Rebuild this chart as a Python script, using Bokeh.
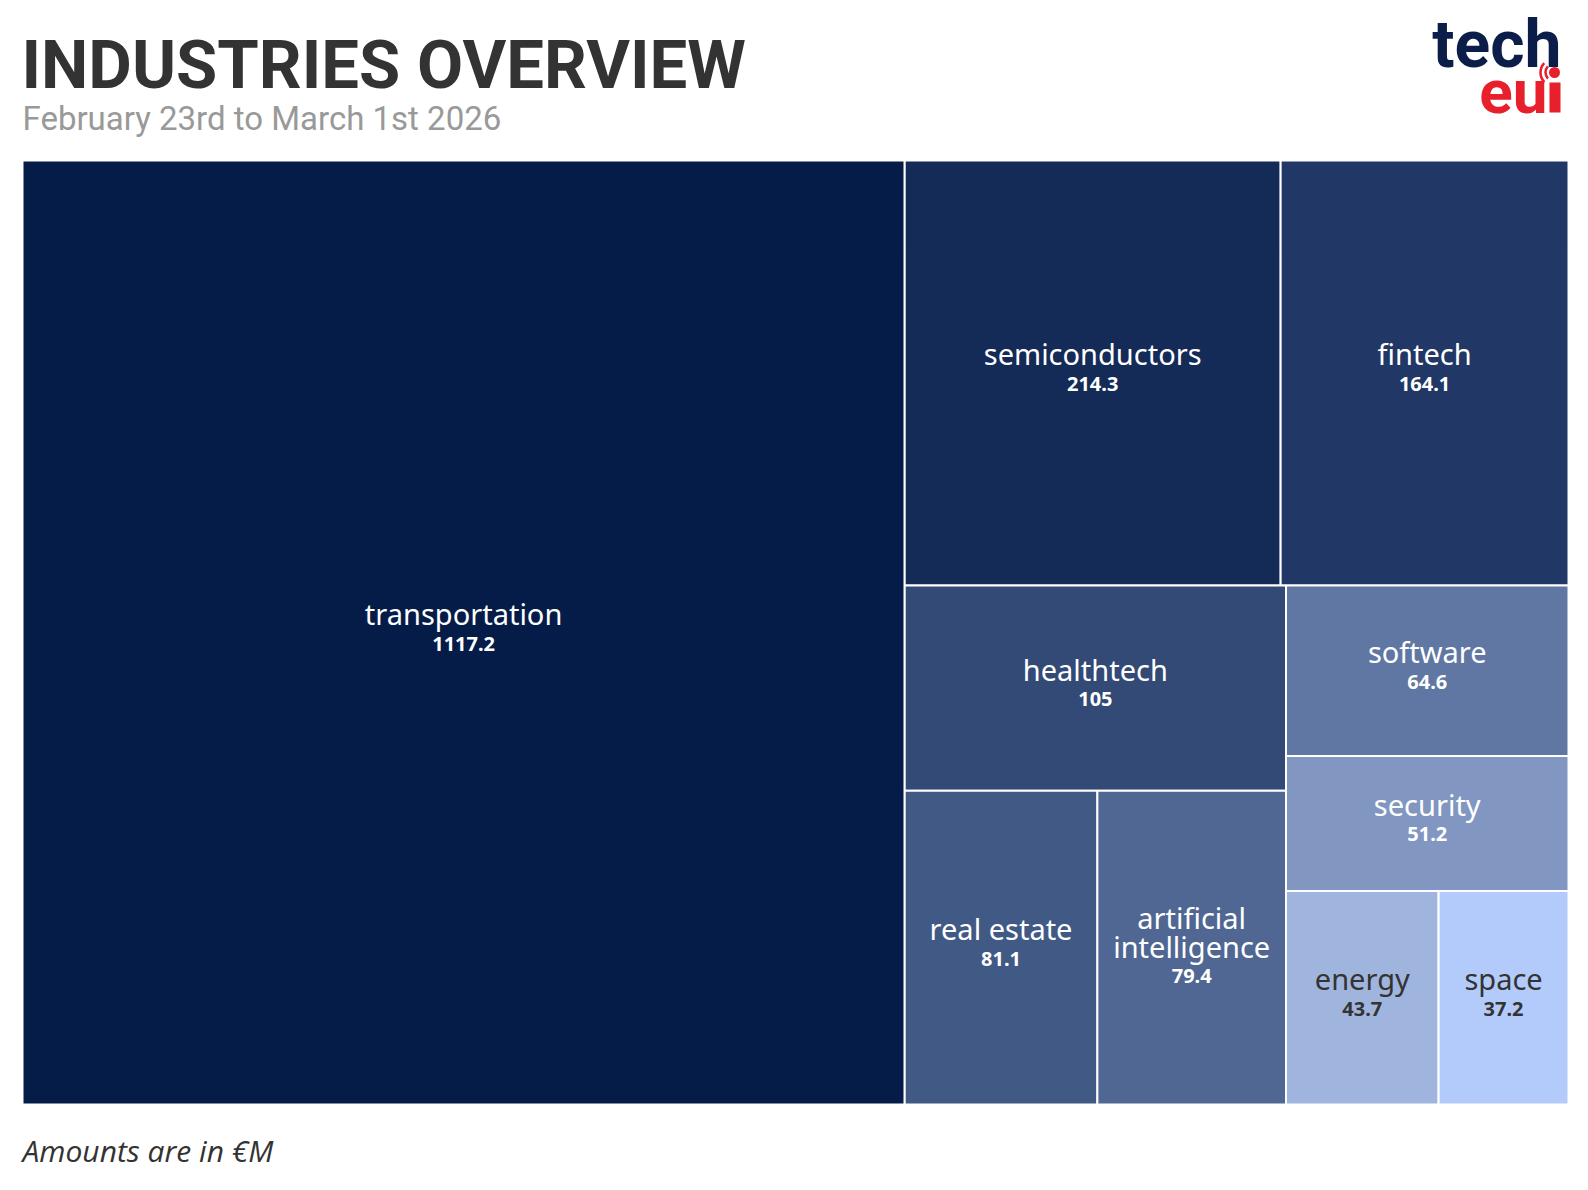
from bokeh.plotting import figure
from bokeh.models import Range1d, ColumnDataSource
from bokeh.core.properties import value
from bokeh.embed import file_html
from bokeh.resources import INLINE

# ---------------- data ----------------
industries = ["transportation", "semiconductors", "fintech", "healthtech", "real estate",
              "artificial intelligence", "software", "security", "energy", "space"]
amounts = [1117.2, 214.3, 164.1, 105, 81.1, 79.4, 64.6, 51.2, 43.7, 37.2]
palette = ["#051c48", "#142a57", "#213866", "#324a75", "#415985",
           "#4f6792", "#5f77a2", "#8197c1", "#a0b5dd", "#b3cbfa"]

title_text = "INDUSTRIES OVERVIEW"
subtitle_text = "February 23rd to March 1st 2026"
note_text = "Amounts are in \u20acM"

# ---------------- layout constants ----------------
W, H = 1572, 1174
X0, X1, Y0, Y1 = 22, 1568, 160, 1104   # treemap box (page pixels)


def binary_treemap(vals, x0, y0, x1, y1):
    """d3.treemapBinary equivalent."""
    n = len(vals)
    sums = [0.0]
    for v in vals:
        sums.append(sums[-1] + v)
    rects = [None] * n

    def part(i, j, val, x0, y0, x1, y1):
        if i >= j - 1:
            rects[i] = (x0, y0, x1, y1)
            return
        off = sums[i]
        target = val / 2 + off
        k, hi = i + 1, j - 1
        while k < hi:
            mid = (k + hi) >> 1
            if sums[mid] < target:
                k = mid + 1
            else:
                hi = mid
        if (target - sums[k - 1]) < (sums[k] - target) and i + 1 < k:
            k -= 1
        vl = sums[k] - off
        vr = val - vl
        if (x1 - x0) > (y1 - y0):
            xk = (x0 * vr + x1 * vl) / val
            part(i, k, vl, x0, y0, xk, y1)
            part(k, j, vr, xk, y0, x1, y1)
        else:
            yk = (y0 * vr + y1 * vl) / val
            part(i, k, vl, x0, y0, x1, yk)
            part(k, j, vr, x0, yk, x1, y1)

    part(0, n, sums[-1], x0, y0, x1, y1)
    return rects


rects = binary_treemap(amounts, X0, Y0, X1, Y1)


def lum(hexc):
    r, g, b = (int(hexc[i:i + 2], 16) / 255 for i in (1, 3, 5))
    return 0.2126 * r + 0.7152 * g + 0.0722 * b


p = figure(width=W, height=H, x_range=Range1d(0, W), y_range=Range1d(H, 0),
           output_backend="svg", toolbar_location=None, min_border=0)
p.axis.visible = False
p.grid.visible = False
p.outline_line_color = None
p.background_fill_color = "white"
p.border_fill_color = "white"

quad_src = ColumnDataSource(dict(
    left=[r[0] for r in rects], right=[r[2] for r in rects],
    top=[r[1] for r in rects], bottom=[r[3] for r in rects],
    color=palette[:len(rects)]))
p.quad(left="left", right="right", top="top", bottom="bottom", source=quad_src,
       fill_color="color", line_color="white", line_width=2)

name_x, name_y, name_t, name_c = [], [], [], []
val_x, val_y, val_t, val_c = [], [], [], []
name_size = 29
for nm, v, r, col in zip(industries, amounts, rects, palette):
    cx = (r[0] + r[2]) / 2
    cy = (r[1] + r[3]) / 2
    w = r[2] - r[0]
    lines = [nm]
    if len(nm) * 0.5 * name_size > w - 20 and " " in nm:
        lines = nm.split(" ")
    tc = "#333333" if lum(col) > 0.65 else "white"
    n = len(lines)
    shift = (n - 1) * 29 / 2
    for i, ln in enumerate(lines):
        name_x.append(cx)
        name_y.append(cy - 19 - shift + i * 29 + (n - 1) * 3)
        name_t.append(ln)
        name_c.append(tc)
    val_x.append(cx)
    val_y.append(name_y[-1] + 30)
    val_t.append(f"{v:g}")
    val_c.append(tc)

p.text(x=name_x, y=name_y, text=name_t, text_color=name_c, text_align="center",
       text_baseline="middle", text_font=value("Noto Sans"),
       text_font_size=f"{name_size}px")
p.text(x=val_x, y=val_y, text=val_t, text_color=val_c, text_align="center",
       text_baseline="middle", text_font=value("Noto Sans"), text_font_style="bold",
       text_font_size="20px")

# titles
p.text(x=[21], y=[64], text=[title_text], text_color="#333333", text_align="left",
       text_baseline="middle", text_font=value("Roboto"), text_font_style="bold",
       text_font_size="67px")
p.text(x=[22], y=[118], text=[subtitle_text], text_color="#999999", text_align="left",
       text_baseline="middle", text_font=value("Roboto"), text_font_size="33px")
p.text(x=[22], y=[1150], text=[note_text], text_color="#333333", text_align="left",
       text_baseline="middle", text_font=value("Open Sans"), text_font_style="italic",
       text_font_size="30px")

# logo
p.text(x=[1561], y=[44], text=["tech"], text_color="#0b1e4a", text_align="right",
       text_baseline="middle", text_font=value("Roboto"), text_font_style="bold",
       text_font_size="66px")
p.text(x=[1547], y=[91], text=["eu"], text_color="#e8202b", text_align="right",
       text_baseline="middle", text_font=value("Roboto"), text_font_style="bold",
       text_font_size="62px")
p.quad(left=[1549], right=[1560], top=[82], bottom=[112], fill_color="#e8202b", line_color=None)
p.scatter(x=[1554], y=[72], size=11, fill_color="#e8202b", line_color=None)
p.arc(x=[1554], y=[72], radius=[9], start_angle=[2.4], end_angle=[3.9],
      line_color="#e8202b", line_width=2.5, direction="anticlock")
p.arc(x=[1554], y=[72], radius=[14], start_angle=[2.4], end_angle=[3.9],
      line_color="#e8202b", line_width=2.5, direction="anticlock")

open("out.html", "w").write(file_html(p, INLINE))
